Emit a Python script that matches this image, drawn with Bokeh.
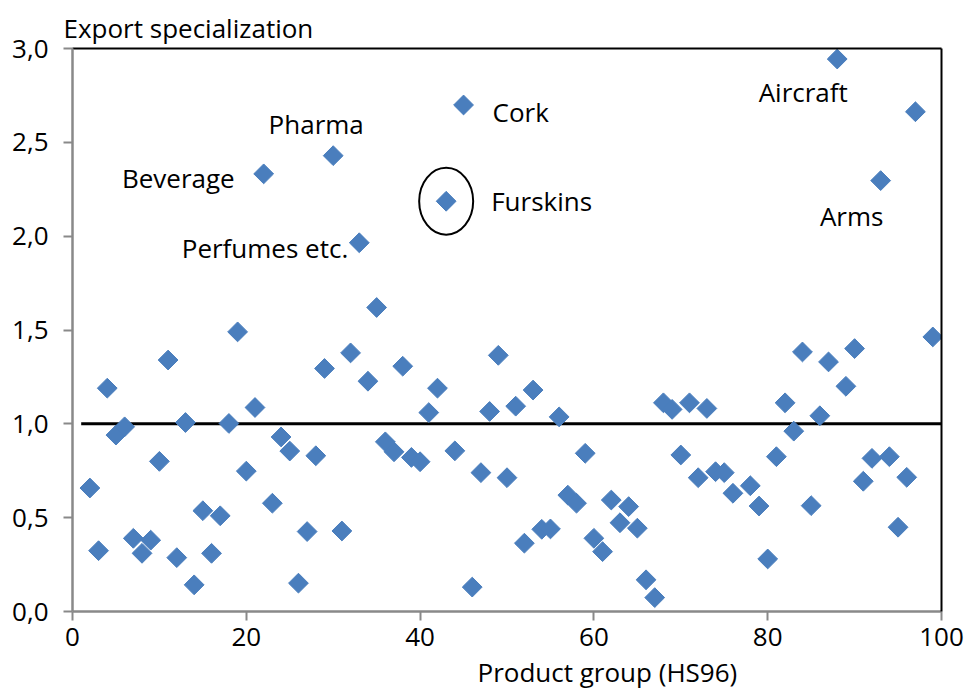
import math
from bokeh.plotting import figure
from bokeh.models import LinearAxis, FixedTicker, ColumnDataSource, Range1d, Title
from bokeh.core.properties import value
from bokeh.embed import file_html
from bokeh.resources import INLINE

# ---- data ----
codes = [2, 3, 4, 5, 6, 7, 8, 9, 10, 11, 12, 13, 14, 15, 16, 17, 18, 19, 20,
         21, 22, 23, 24, 25, 26, 27, 28, 29, 30, 31, 32, 33, 34, 35, 36, 37, 38, 39, 40,
         41, 42, 43, 44, 45, 46, 47, 48, 49, 50, 51, 52, 53, 54, 55, 56, 57, 58, 59, 60,
         61, 62, 63, 64, 65, 66, 67, 68, 69, 70, 71, 72, 73, 74, 75, 76, 78, 79, 80,
         81, 82, 83, 84, 85, 86, 87, 88, 89, 90, 91, 92, 93, 94, 95, 96, 97, 99]
specialization = [0.658, 0.324, 1.19, 0.94, 0.984, 0.39, 0.31, 0.38, 0.80, 1.34,
                  0.287, 1.007, 0.142, 0.537, 0.31, 0.51, 1.002, 1.49, 0.748,
                  1.087, 2.332, 0.577, 0.93, 0.855, 0.151, 0.426, 0.83, 1.295, 2.429,
                  0.429, 1.378, 1.965, 1.227, 1.62, 0.904, 0.851, 1.307, 0.821, 0.798,
                  1.06, 1.19, 2.186, 0.856, 2.699, 0.13, 0.74, 1.066, 1.365, 0.713,
                  1.094, 0.364, 1.18, 0.438, 0.44, 1.037, 0.62, 0.577, 0.843, 0.39,
                  0.319, 0.594, 0.473, 0.559, 0.444, 0.169, 0.074, 1.112, 1.077, 0.834,
                  1.112, 0.713, 1.082, 0.745, 0.74, 0.63, 0.67, 0.562, 0.28,
                  0.825, 1.112, 0.961, 1.383, 0.564, 1.043, 1.33, 2.944, 1.2, 1.401,
                  0.694, 0.816, 2.296, 0.825, 0.449, 0.715, 2.663, 1.463]

labelled_codes = [22, 30, 33, 43, 45, 88, 93]
labelled_names = ["Beverage", "Pharma", "Perfumes etc.", "Furskins", "Cork", "Aircraft", "Arms"]
circled_code = 43

benchmark_x = [1, 100]
benchmark_y = [1.0, 1.0]

x_ticks = [0, 20, 40, 60, 80, 100]
y_ticks = [0.0, 0.5, 1.0, 1.5, 2.0, 2.5, 3.0]
y_tick_labels = ["0,0", "0,5", "1,0", "1,5", "2,0", "2,5", "3,0"]

y_title = "Export specialization"
x_title = "Product group (HS96)"

# ---- styles ----
FONT = "Open Sans"
FS = "26px"
BLUE = "#4A7EBD"
GREY = "#898989"
label_style = {
    "Beverage": ("right", -29, 4),
    "Pharma": ("center", -17, -32),
    "Perfumes etc.": ("right", -11, 5),
    "Furskins": ("left", 45, 0),
    "Cork": ("left", 29, 7),
    "Aircraft": ("center", -34, 33),
    "Arms": ("center", -29, 35),
}

p = figure(width=967, height=693, x_range=Range1d(0, 100), y_range=Range1d(0, 3),
           output_backend="svg", toolbar_location=None,
           min_border_left=72, min_border_right=26, min_border_top=48, min_border_bottom=81)
p.xgrid.visible = False
p.ygrid.visible = False
p.outline_line_color = None
p.background_fill_color = "white"
p.border_fill_color = "white"

for ax in (p.xaxis[0], p.yaxis[0]):
    ax.axis_line_color = GREY
    ax.axis_line_width = 2.5
    ax.major_tick_line_color = GREY
    ax.major_tick_line_width = 2
    ax.major_tick_out = 9
    ax.major_tick_in = 0
    ax.minor_tick_line_color = None
    ax.major_label_text_font = FONT
    ax.major_label_text_font_size = FS
    ax.major_label_text_color = "black"

p.xaxis.ticker = FixedTicker(ticks=x_ticks)
p.yaxis.ticker = FixedTicker(ticks=y_ticks)
p.yaxis.major_label_overrides = dict(zip(y_ticks, y_tick_labels))
p.xaxis.major_label_standoff = 7
p.yaxis.major_label_standoff = 15

for loc in ("above", "right"):
    a = LinearAxis(ticker=FixedTicker(ticks=[]), axis_line_color="black", axis_line_width=2,
                   major_tick_line_color=None, minor_tick_line_color=None,
                   major_label_text_font_size="0px", major_label_standoff=0,
                   major_tick_out=0, major_tick_in=0)
    p.add_layout(a, loc)

p.add_layout(Title(text=y_title, align="left", offset=-9, standoff=6,
                   text_font=FONT, text_font_size=FS, text_font_style="normal",
                   text_color="black"), "above")
p.add_layout(Title(text=x_title, align="left", offset=405, standoff=7,
                   text_font=FONT, text_font_size=FS, text_font_style="normal",
                   text_color="black"), "below")

p.line(benchmark_x, benchmark_y, line_color="black", line_width=3)

p.scatter(codes, specialization, marker="square", size=14, angle=math.pi / 4,
          fill_color=BLUE, line_color=BLUE, line_width=1)

lookup = dict(zip(codes, specialization))
src = ColumnDataSource(dict(
    x=labelled_codes,
    y=[lookup[c] for c in labelled_codes],
    text=labelled_names,
    align=[label_style[n][0] for n in labelled_names],
    xo=[label_style[n][1] for n in labelled_names],
    yo=[label_style[n][2] for n in labelled_names],
))
p.text(x="x", y="y", text="text", source=src, text_align="align", x_offset="xo", y_offset="yo",
       text_baseline="middle", text_font=value(FONT), text_font_size=value(FS), text_color="black")

p.ellipse(x=[circled_code], y=[lookup[circled_code]], width=54, height=67,
          width_units="screen", height_units="screen",
          fill_color=None, line_color="black", line_width=2)

open("out.html", "w").write(file_html(p, INLINE))
